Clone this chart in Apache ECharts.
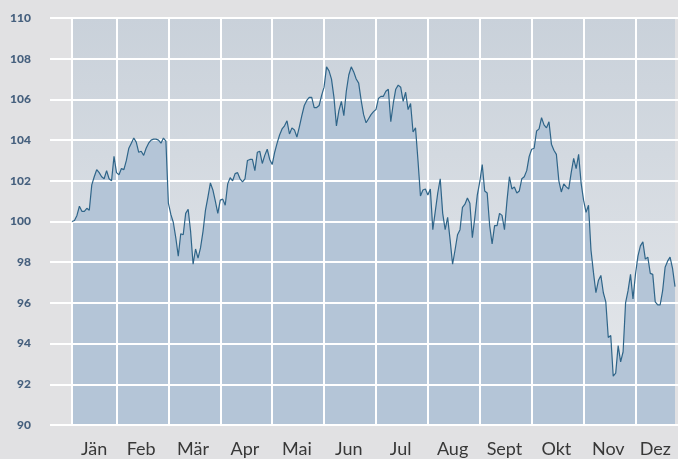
<!DOCTYPE html>
<html>
<head>
<meta charset="utf-8">
<script src="https://cdn.jsdelivr.net/npm/echarts@6/dist/echarts.min.js"></script>
<style>
  html, body { margin: 0; padding: 0; background: #e1e1e3; }
  #chart { width: 678px; height: 459px; }
</style>
</head>
<body>
<div id="chart"></div>
<script>
let months = ["Jän", "Feb", "Mär", "Apr", "Mai", "Jun", "Jul", "Aug", "Sept", "Okt", "Nov", "Dez"];

let jan = [100.0, 100.05, 100.3, 100.75, 100.5, 100.5, 100.65, 100.55, 101.8, 102.2, 102.55, 102.4, 102.2, 102.1, 102.5, 102.1, 102.0, 103.2];
let feb = [102.4, 102.3, 102.6, 102.55, 103.0, 103.6, 103.85, 104.1, 103.9, 103.4, 103.45, 103.25, 103.6, 103.85, 104.0, 104.05, 104.05, 104.0, 103.85, 104.1, 103.95];
let mar = [100.9, 100.35, 99.95, 99.2, 98.3, 99.4, 99.35, 100.4, 100.6, 99.5, 97.9, 98.65, 98.2, 98.7, 99.5, 100.55, 101.2, 101.9, 101.55, 101.0, 100.4];
let apr = [101.05, 101.1, 100.8, 101.85, 102.15, 102.0, 102.35, 102.4, 102.1, 101.95, 102.1, 103.0, 103.05, 103.05, 102.5, 103.4, 103.45, 102.85, 103.25, 103.55, 103.05];
let mai = [102.8, 103.4, 103.85, 104.25, 104.55, 104.7, 104.95, 104.3, 104.6, 104.5, 104.15, 104.65, 105.2, 105.7, 105.95, 106.1, 106.1, 105.6, 105.6, 105.7, 106.2];
let jun = [106.6, 107.6, 107.4, 107.0, 106.1, 104.7, 105.45, 105.9, 105.2, 106.4, 107.2, 107.6, 107.35, 107.0, 106.8, 105.95, 105.25, 104.85, 105.05, 105.25, 105.4];
let jul = [105.5, 106.05, 106.15, 106.15, 106.4, 106.5, 104.9, 105.8, 106.5, 106.7, 106.6, 105.9, 106.35, 105.5, 105.8, 104.4, 104.6, 103.0, 101.25, 101.55, 101.6];
let aug = [101.3, 101.6, 99.6, 100.5, 101.4, 102.1, 100.4, 99.6, 100.2, 99.1, 97.9, 98.6, 99.35, 99.6, 100.7, 100.85, 101.15, 100.9, 99.2, 100.2, 101.3];
let sep = [101.95, 102.8, 101.5, 101.4, 99.8, 98.9, 99.8, 99.8, 100.4, 100.3, 99.6, 101.0, 102.2, 101.6, 101.7, 101.4, 101.5, 102.1, 102.2, 102.5, 103.2];
let okt = [103.55, 103.6, 104.45, 104.55, 105.1, 104.75, 104.6, 104.9, 103.8, 103.5, 103.3, 102.0, 101.45, 101.85, 101.7, 101.6, 102.4, 103.1, 102.6, 103.3, 101.9];
let nov = [101.05, 100.45, 100.8, 98.6, 97.5, 96.5, 97.1, 97.35, 96.5, 96.05, 94.3, 94.4, 92.4, 92.55, 93.9, 93.1, 93.6, 96.0, 96.6, 97.4, 96.2];
let dez = [97.4, 98.3, 98.8, 99.0, 98.15, 98.25, 97.45, 97.4, 96.05, 95.9, 95.9, 96.6, 97.75, 98.05, 98.25, 97.7, 96.8];

let yTicks = { min: 90, max: 110, step: 2 };

let perMonth = [jan, feb, mar, apr, mai, jun, jul, aug, sep, okt, nov, dez];
let days = [];
let values = [];
let starts = [];
let mids = [];
perMonth.forEach((vals, m) => {
  starts.push(days.length);
  mids.push(days.length + Math.floor(vals.length / 2));
  vals.forEach((v, k) => {
    days.push(months[m] + " " + (k + 1));
    values.push(v);
  });
});

let white = { color: "#ffffff", width: 2 };

let chart = echarts.init(document.getElementById("chart"));
chart.setOption({
  backgroundColor: "#e1e1e3",
  animation: false,
  grid: [
    { left: 50, right: 0, top: 18, bottom: 34 },
    {
      left: 72, right: 0, top: 18, bottom: 34, show: true, borderWidth: 0,
      backgroundColor: new echarts.graphic.LinearGradient(0, 0, 0, 1, [
        { offset: 0, color: "#c9d1da" },
        { offset: 1, color: "#e7e9ec" }
      ])
    }
  ],
  xAxis: [
    { gridIndex: 0, type: "value", min: 0, max: 1, show: false },
    {
      gridIndex: 1, type: "category", boundaryGap: false, data: days, z: 2,
      axisLine: { show: false },
      axisTick: { show: false },
      splitLine: { show: true, interval: (i) => starts.includes(i), lineStyle: white },
      axisLabel: {
        interval: 0,
        formatter: (v, i) => mids.includes(i) ? v.split(" ")[0] : "",
        color: "#383838", fontFamily: "Lato", fontSize: 18, margin: 15
      }
    }
  ],
  yAxis: [
    {
      gridIndex: 0, type: "value", min: yTicks.min, max: yTicks.max, interval: yTicks.step,
      axisLine: { show: false }, axisTick: { show: false },
      splitLine: { lineStyle: white },
      axisLabel: { color: "#46607e", fontWeight: 900, fontFamily: "Lato", fontSize: 12, margin: 19 }
    },
    {
      gridIndex: 1, type: "value", min: yTicks.min, max: yTicks.max, interval: yTicks.step, z: 2,
      axisLine: { show: false }, axisTick: { show: false }, axisLabel: { show: false },
      splitLine: { lineStyle: white }
    }
  ],
  series: [
    {
      type: "line", xAxisIndex: 1, yAxisIndex: 1, data: values, symbol: "none", z: 1,
      lineStyle: { width: 0 },
      areaStyle: { color: "#b4c5d7", opacity: 1, origin: "start" }
    },
    {
      type: "line", xAxisIndex: 1, yAxisIndex: 1, data: values, symbol: "none", z: 3,
      lineStyle: { color: "#2f6589", width: 1.2 }
    }
  ]
});
</script>
</body>
</html>
